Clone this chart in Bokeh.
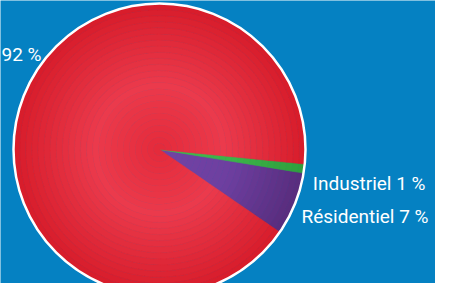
import numpy as np
from bokeh.plotting import figure
from bokeh.models import Range1d, Label
from bokeh.embed import file_html
from bokeh.resources import INLINE

# ---- data ----
categories = ["", "Industriel", "Résidentiel"]
values = [92, 1, 7]

# ---- styles ----
BG = "#0581c2"
FONT = "Roboto"
slice_colors = {
    0: [(0.0, "#e42a3a"), (0.45, "#eb3a4c"), (1.0, "#d71c2a")],
    1: [(0.0, "#44b84c"), (0.5, "#3db448"), (1.0, "#2f9e3c")],
    2: [(0.0, "#7243a4"), (0.5, "#6e3fa0"), (1.0, "#582c7c")],
}


def hex2rgb(h):
    h = h.lstrip("#")
    return np.array([int(h[i:i + 2], 16) for i in (0, 2, 4)], dtype=float)


def grad(stops, t):
    for (t0, c0), (t1, c1) in zip(stops[:-1], stops[1:]):
        if t <= t1:
            f = (t - t0) / (t1 - t0)
            c = hex2rgb(c0) * (1 - f) + hex2rgb(c1) * f
            return "#%02x%02x%02x" % tuple(int(round(v)) for v in c)
    return stops[-1][1]


W, H = 435, 283
p = figure(width=W, height=H, x_range=Range1d(0, W), y_range=Range1d(0, H),
           output_backend="svg", toolbar_location=None, min_border=0)
p.axis.visible = False
p.grid.visible = False
p.outline_line_color = None
p.background_fill_color = BG
p.border_fill_color = BG

cx, cy, R = 159, 134, 146
order = [2, 1, 0]
start = np.deg2rad(-34.5)
total = float(sum(values))
spans = {}
a = start
for i in order:
    s = values[i] / total * 2 * np.pi
    spans[i] = (a, a + s)
    a += s

N = 24
xs, ys, rin, rout, sa, ea, cols = [], [], [], [], [], [], []
for i in order:
    for k in range(N):
        t = (k + 0.5) / N
        xs.append(cx); ys.append(cy)
        rin.append(R * k / N); rout.append(R * (k + 1) / N)
        sa.append(spans[i][0]); ea.append(spans[i][1])
        cols.append(grad(slice_colors[i], t))

p.annular_wedge(x=xs, y=ys, inner_radius=rin, outer_radius=rout,
                start_angle=sa, end_angle=ea, fill_color=cols,
                line_color=cols, line_width=0.6)

p.circle(x=[cx], y=[cy], radius=R, fill_color=None, line_color="white", line_width=2.5)

labels = [(c + " " if c else "") + f"{v} %" for c, v in zip(categories, values)]
label_pos = {0: (1, 229, "left"), 1: (425, 100, "right"), 2: (428, 67, "right")}
for i, txt in enumerate(labels):
    x, y, al = label_pos[i]
    p.add_layout(Label(x=x, y=y, text=txt, text_align=al, text_baseline="alphabetic",
                       text_color="white", text_font=FONT, text_font_size="19px"))

open("out.html", "w").write(file_html(p, INLINE))
